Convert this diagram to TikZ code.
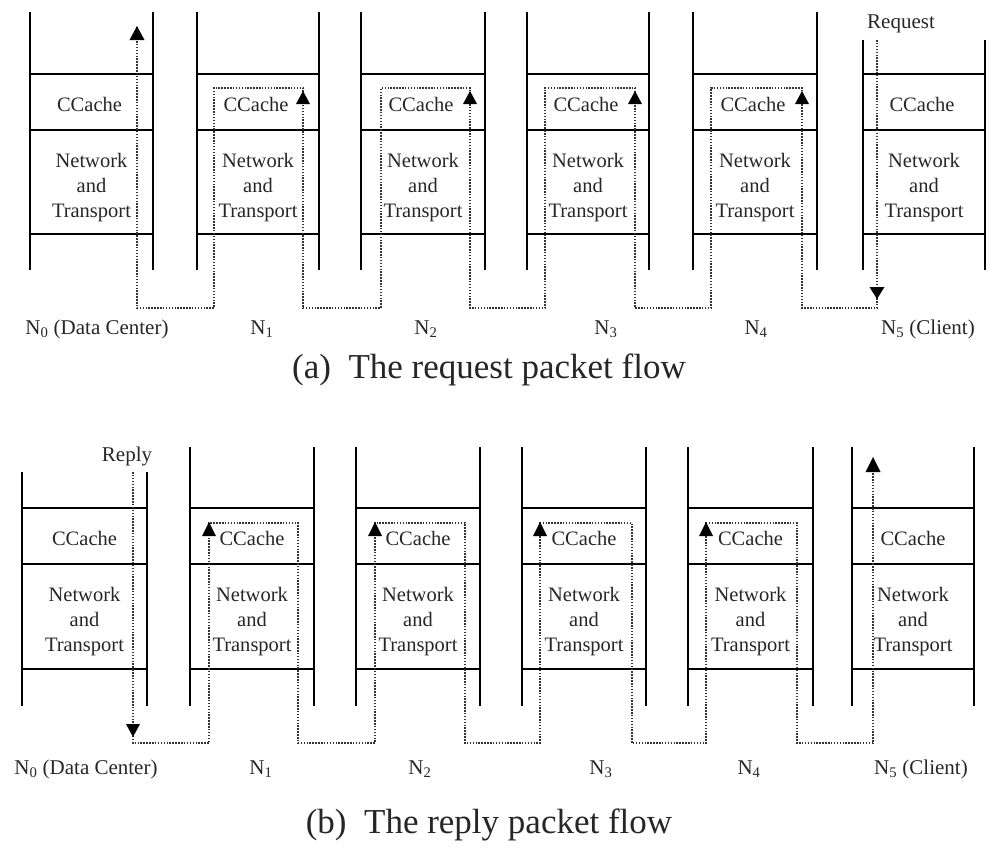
\documentclass[tikz,border=0pt]{standalone}
\usepackage{fontspec}
\setmainfont{Liberation Serif}
\begin{document}
\begin{tikzpicture}[x=1bp,y=-1bp,
  layer/.style={line width=1.2bp,black},
  flow/.style={line width=1.6bp,dash pattern=on 1.5bp off 1.4bp,black!80},
  tipfill/.style={fill=black},
  txt/.style={font=\fontsize{20.5bp}{25bp}\selectfont,inner sep=0pt,align=center,text=black!85},
  lab/.style={font=\fontsize{21bp}{25bp}\selectfont,inner sep=0pt,text=black!85},
  captxt/.style={font=\fontsize{35bp}{40bp}\selectfont,inner sep=0pt,text=black!85}]
\useasboundingbox (0,0) rectangle (996,851);

% ---------- (a) request ----------
\foreach \l/\r/\t [count=\i from 0] in {30/153/12,197/319/12,361/485/12,527/649/12,693/817/12,863/985/40}{
  \draw[layer] (\l,\t) -- (\l,270) (\r,\t) -- (\r,270);
  \draw[layer] (\l,74) -- (\r,74) (\l,130) -- (\r,130) (\l,234) -- (\r,234);
  \node[txt] (acc\i) at ({(\l+\r)/2-2},104.5) {CCache};
  \node[txt] (ant\i) at ({(\l+\r)/2},188) {Network\\and\\Transport};
}
\coordinate (areqstart) at (877,40);
\coordinate (areqend) at (137,27);
\draw[flow] (areqstart) -- (877,308) -- (802,308) -- (802,88) -- (711,88) -- (711,308)
  -- (635,308) -- (635,88) -- (545,88) -- (545,308) -- (470,308) -- (470,88)
  -- (381,88) -- (381,308) -- (303,308) -- (303,88) -- (214,88) -- (214,308)
  -- (137,308) -- (areqend);
% arrowheads
\fill[tipfill] (877,299) -- (869.5,287) -- (884.5,287) -- cycle;
\foreach \x in {303,470,635,802}{
  \fill[tipfill] (\x,91) -- (\x+7,104) -- (\x-7,104) -- cycle;
}
\fill[tipfill] (137,26) -- (144.5,40) -- (129.5,40) -- cycle;

\node[lab] (areq) at (901,24) {Request};
\node[lab] (an0) at (97,329) {N\textsubscript{0} (Data Center)};
\node[lab] (an1) at (262,329) {N\textsubscript{1}};
\node[lab] (an2) at (426,329) {N\textsubscript{2}};
\node[lab] (an3) at (606,329) {N\textsubscript{3}};
\node[lab] (an4) at (756,329) {N\textsubscript{4}};
\node[lab] (an5) at (928,329) {N\textsubscript{5} (Client)};
\node[captxt] (capa) at (489,370) {(a)\ \ The request packet flow};

% ---------- (b) reply ----------
\foreach \l/\r/\t [count=\i from 0] in {22/147/472,190/314/447,356/480/447,522/646/447,688/813/447,852/974/447}{
  \draw[layer] (\l,\t) -- (\l,706) (\r,\t) -- (\r,706);
  \draw[layer] (\l,508) -- (\r,508) (\l,564) -- (\r,564) (\l,669) -- (\r,669);
  \node[txt] (bcc\i) at ({(\l+\r)/2},538.5) {CCache};
  \node[txt] (bnt\i) at ({(\l+\r)/2},622) {Network\\and\\Transport};
}
\coordinate (brepstart) at (133,472);
\coordinate (brepend) at (873,462);
\draw[flow] (brepstart) -- (133,743) -- (209,743) -- (209,523) -- (298,523) -- (298,743)
  -- (375,743) -- (375,523) -- (465,523) -- (465,743) -- (540,743) -- (540,523)
  -- (632,523) -- (632,743) -- (706,743) -- (706,523) -- (797,523) -- (797,743)
  -- (873,743) -- (brepend);
\fill[tipfill] (133,737) -- (126,724) -- (140,724) -- cycle;
\foreach \x in {209,375,540,706}{
  \fill[tipfill] (\x,522) -- (\x+7,536) -- (\x-7,536) -- cycle;
}
\fill[tipfill] (873,457) -- (880.5,472) -- (865.5,472) -- cycle;

\node[lab] (brep) at (127,456) {Reply};
\node[lab] (bn0) at (86,769) {N\textsubscript{0} (Data Center)};
\node[lab] (bn1) at (261,769) {N\textsubscript{1}};
\node[lab] (bn2) at (420,769) {N\textsubscript{2}};
\node[lab] (bn3) at (601,769) {N\textsubscript{3}};
\node[lab] (bn4) at (749,769) {N\textsubscript{4}};
\node[lab] (bn5) at (921,769) {N\textsubscript{5} (Client)};
\node[captxt] (capb) at (489,825) {(b)\ \ The reply packet flow};
\end{tikzpicture}
\end{document}
